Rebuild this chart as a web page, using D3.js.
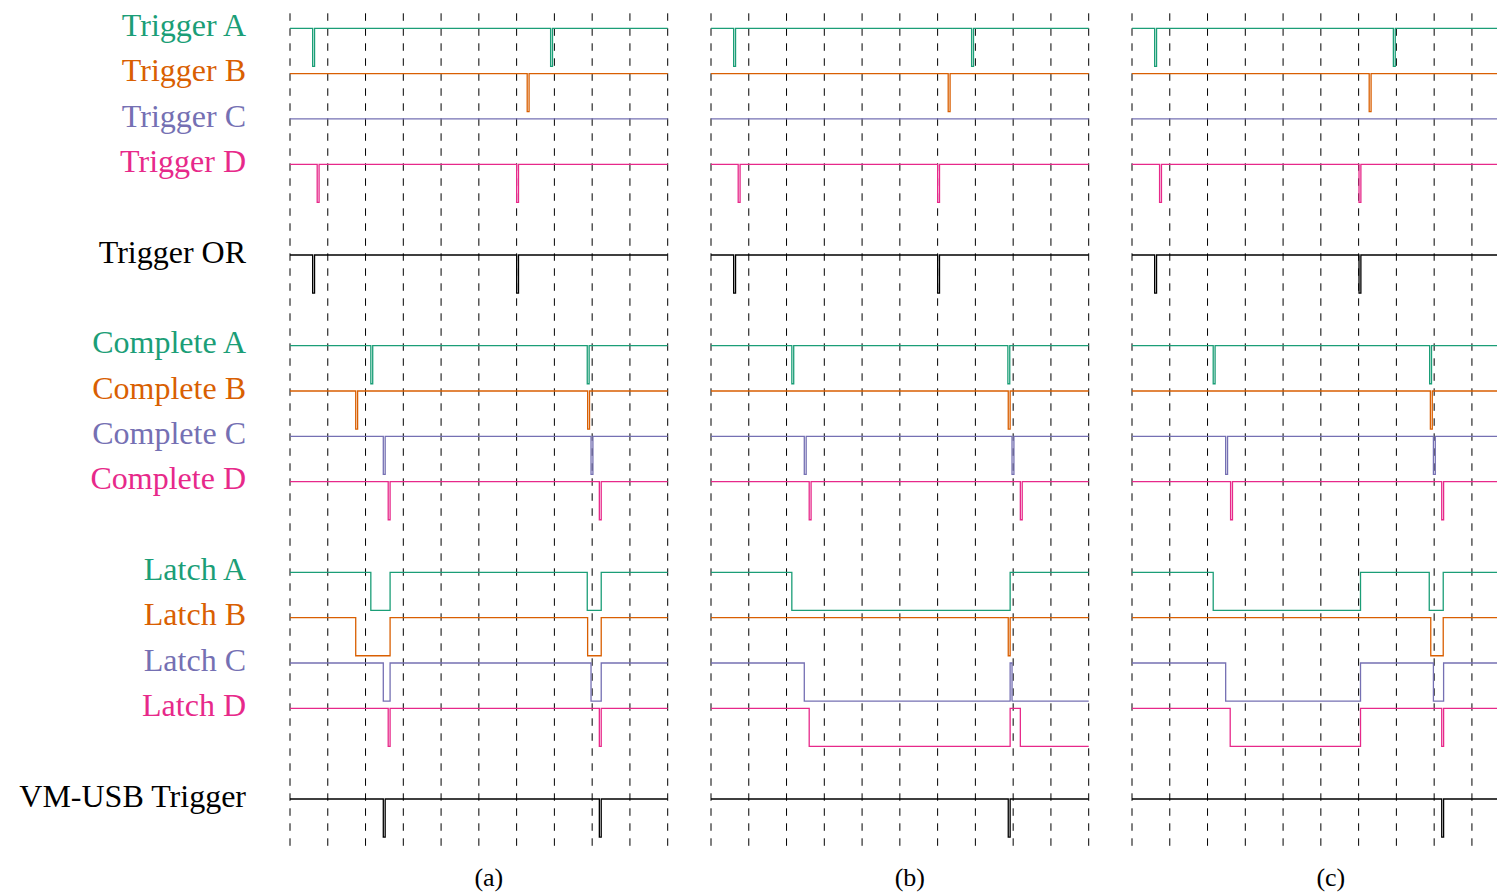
<!DOCTYPE html>
<html>
<head>
<meta charset="utf-8">
<script src="https://cdn.jsdelivr.net/npm/d3@7.9.0/dist/d3.min.js"></script>
<style>
  html, body { margin: 0; padding: 0; background: #fff; }
  svg { display: block; }
  text { font-family: "Liberation Serif", "DejaVu Serif", serif; }
</style>
</head>
<body>
<svg id="chart"></svg>
<script>
// ------------------- Data -------------------
const panels = ['(a)', '(b)', '(c)'];

const rowLabels = [
  'Trigger A', 'Trigger B', 'Trigger C', 'Trigger D',
  'Trigger OR',
  'Complete A', 'Complete B', 'Complete C', 'Complete D',
  'Latch A', 'Latch B', 'Latch C', 'Latch D',
  'VM-USB Trigger'
];
// vertical slot of each row (gaps between groups)
const rowSlots = [0, 1, 2, 3, 5, 7, 8, 9, 10, 12, 13, 14, 15, 17];
const rowColors = [
  '#1b9e77', '#d95f02', '#7570b3', '#e7298a',
  '#000000',
  '#1b9e77', '#d95f02', '#7570b3', '#e7298a',
  '#1b9e77', '#d95f02', '#7570b3', '#e7298a',
  '#000000'
];

// narrow pulses: start times (time units) per panel, each lasts pulseWidth
const pulseWidth = 0.05;
const triggerA  = [[0.6, 6.9], [0.6, 6.9], [0.6, 6.92]];
const triggerB  = [[6.28], [6.28], [6.28]];
const triggerC  = [[], [], []];
const triggerD  = [[0.72, 6.0], [0.72, 6.0], [0.73, 6.01]];
const triggerOR = [[0.6, 6.0], [0.6, 6.0], [0.6, 6.01]];
const completeA = [[2.14, 7.87], [2.14, 7.86], [2.15, 7.88]];
const completeB = [[1.74, 7.88], [7.87], [7.9]];
const completeC = [[2.47, 7.97], [2.47, 7.97], [2.48, 7.98]];
const completeD = [[2.6, 8.19], [2.6, 8.19], [2.61, 8.2]];
const vmusbTrigger = [[2.47, 8.19], [7.87], [8.2]];

// latches: low intervals [from, to] per panel
const latchA = [[[2.14, 2.65], [7.87, 8.24]], [[2.14, 7.92]], [[2.15, 6.05], [7.87, 8.24]]];
const latchB = [[[1.74, 2.65], [7.88, 8.24]], [[7.87, 7.92]], [[7.91, 8.24]]];
const latchC = [[[2.47, 2.65], [7.97, 8.24]], [[2.47, 7.92], [7.97, 10]], [[2.48, 6.05], [7.98, 8.25]]];
const latchD = [[[2.6, 2.65], [8.19, 8.24]], [[2.6, 7.92], [8.19, 10]], [[2.6, 6.05], [8.2, 8.25]]];

const timeTicks = d3.range(0, 11);

// ------------------- Build signals -------------------
const toIntervals = starts => starts.map(s => [s, s + pulseWidth]);
const rowSignals = [
  triggerA.map(toIntervals), triggerB.map(toIntervals), triggerC.map(toIntervals), triggerD.map(toIntervals),
  triggerOR.map(toIntervals),
  completeA.map(toIntervals), completeB.map(toIntervals), completeC.map(toIntervals), completeD.map(toIntervals),
  latchA, latchB, latchC, latchD,
  vmusbTrigger.map(toIntervals)
];

// ------------------- Layout -------------------
const width = 1497, height = 894;
const panelLeft = d3.scaleLinear().domain([0, 1]).range([290, 711]);
const panelWidth = 377.7;
const yScale = d3.scaleLinear().domain([0, 17]).range([28.3, 799]);
const lowDepth = 0.84; // in slots

const svg = d3.select('#chart')
  .attr('width', width)
  .attr('height', height)
  .attr('viewBox', `0 0 ${width} ${height}`);

// ------------------- Labels -------------------
svg.append('g')
  .attr('class', 'labels')
  .selectAll('text')
  .data(rowLabels)
  .join('text')
  .attr('x', 246)
  .attr('y', (d, i) => yScale(rowSlots[i]) + 7.6)
  .attr('text-anchor', 'end')
  .attr('font-size', 32)
  .attr('fill', (d, i) => rowColors[i])
  .text(d => d);

// ------------------- Panels -------------------
const line = d3.line().x(d => d[0]).y(d => d[1]);

panels.forEach((name, p) => {
  const x0 = panelLeft(p);
  const xScale = d3.scaleLinear().domain([0, 10]).range([x0, x0 + panelWidth]);
  const g = svg.append('g').attr('class', 'panel');

  // dashed time grid
  g.append('g')
    .attr('class', 'grid')
    .selectAll('line')
    .data(timeTicks)
    .join('line')
    .attr('x1', d => xScale(d))
    .attr('x2', d => xScale(d))
    .attr('y1', 13.3)
    .attr('y2', 851)
    .attr('stroke', '#000')
    .attr('stroke-width', 1)
    .attr('stroke-dasharray', '7.5,7.5');

  // signals
  g.append('g')
    .attr('class', 'signals')
    .selectAll('path')
    .data(rowSignals.map((s, i) => ({ i, lows: s[p] })))
    .join('path')
    .attr('fill', 'none')
    .attr('stroke', d => rowColors[d.i])
    .attr('stroke-width', 1.3)
    .attr('stroke-linejoin', 'miter')
    .attr('d', d => {
      const hi = yScale(rowSlots[d.i]);
      const lo = yScale(rowSlots[d.i] + lowDepth);
      const pts = [[xScale(0), hi]];
      let end = hi;
      d.lows.forEach(([a, b]) => {
        pts.push([xScale(a), hi], [xScale(a), lo]);
        if (b >= 10) { end = lo; }
        else pts.push([xScale(b), lo], [xScale(b), hi]);
      });
      pts.push([xScale(10), end]);
      return line(pts);
    });

  // caption
  g.append('text')
    .attr('x', x0 + panelWidth / 2 + 10)
    .attr('y', 886)
    .attr('text-anchor', 'middle')
    .attr('font-size', 26)
    .attr('fill', '#000')
    .text(name);
});
</script>
</body>
</html>
